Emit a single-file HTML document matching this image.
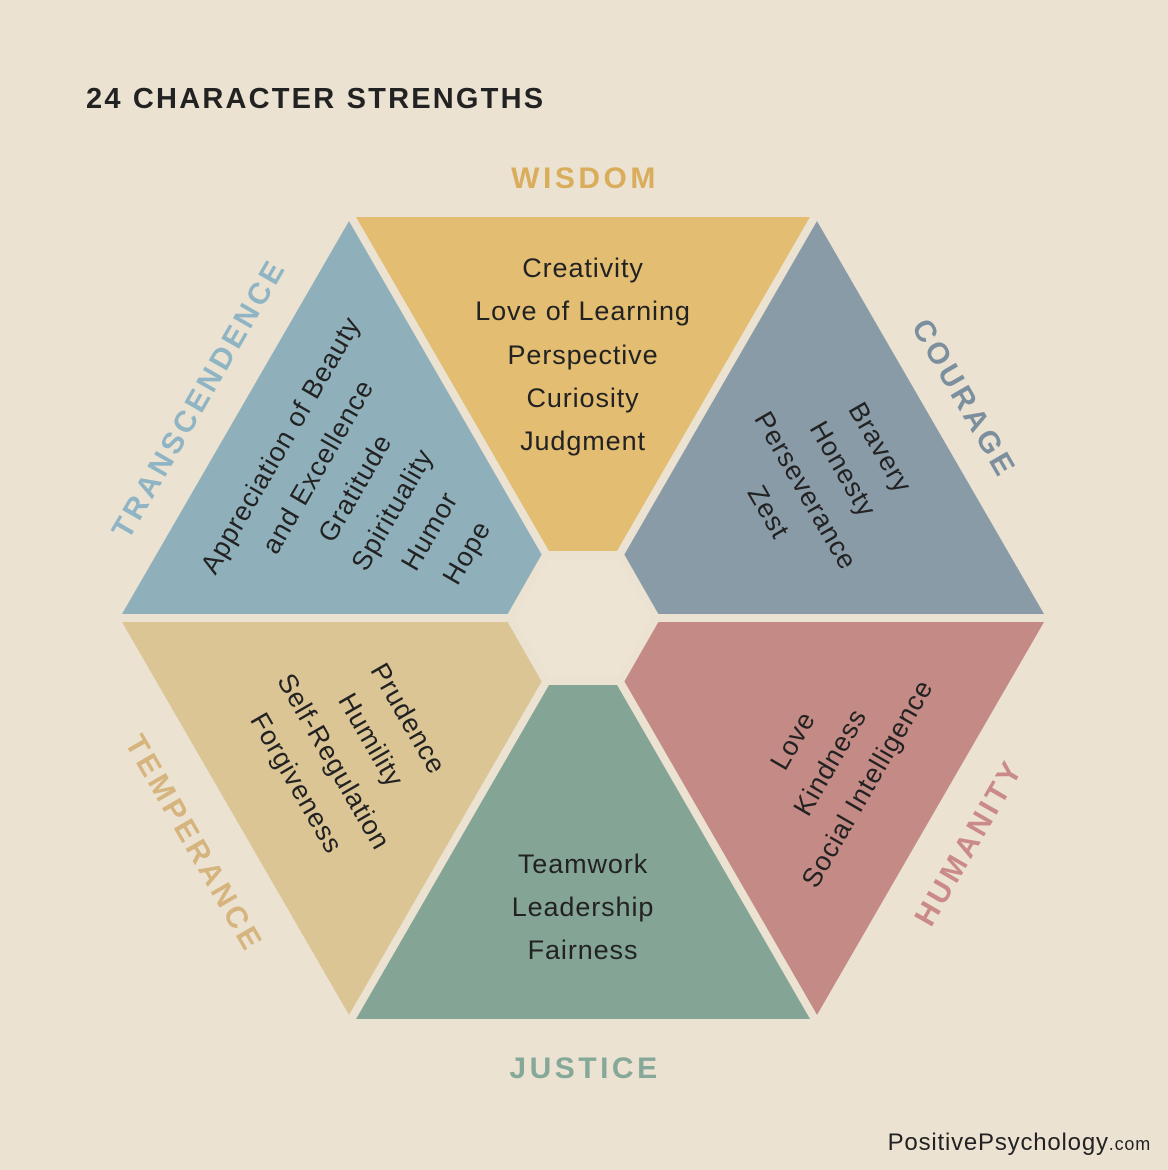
<!DOCTYPE html>
<html><head><meta charset="utf-8"><style>
html,body{margin:0;padding:0;background:#ebe2d2;}
svg{display:block;}
text{font-family:"Liberation Sans",sans-serif;}
</style></head><body>
<svg width="1168" height="1170" viewBox="0 0 1168 1170" xmlns="http://www.w3.org/2000/svg">
<rect width="1168" height="1170" fill="#ebe2d2"/>
<text x="86" y="108" font-size="29" font-weight="bold" fill="#222" letter-spacing="2.2">24 CHARACTER STRENGTHS</text>
<g stroke="#ebe2d2" stroke-width="8" stroke-linejoin="miter">
<polygon points="583,618 349,213 817,213" fill="#e2bd72"/>
<polygon points="583,618 817,213 1051,618" fill="#8a9ba8"/>
<polygon points="583,618 1051,618 817,1023" fill="#c48a85"/>
<polygon points="583,618 817,1023 349,1023" fill="#84a596"/>
<polygon points="583,618 349,1023 115,618" fill="#dbc595"/>
<polygon points="583,618 115,618 349,213" fill="#8fb0ba"/>
</g>
<polygon points="510,618 546,555 620,555 656,618 620,681 546,681" fill="#ede4d4" stroke="#ebe2d2" stroke-width="8"/>
<g font-size="27" fill="#222" text-anchor="middle" letter-spacing="0.9">
<text x="583" y="277">Creativity</text>
<text x="583" y="320">Love of Learning</text>
<text x="583" y="364">Perspective</text>
<text x="583" y="407">Curiosity</text>
<text x="583" y="450">Judgment</text>
<text x="583" y="873">Teamwork</text>
<text x="583" y="916">Leadership</text>
<text x="583" y="959">Fairness</text>
<g transform="translate(374,499) rotate(-60)">
<text x="0" y="-99">Appreciation of Beauty</text>
<text x="0" y="-56">and Excellence</text>
<text x="0" y="-13">Gratitude</text>
<text x="0" y="30">Spirituality</text>
<text x="0" y="73">Humor</text>
<text x="0" y="116">Hope</text>
</g>
<g transform="translate(824,480) rotate(60)">
<text x="0" y="-56">Bravery</text>
<text x="0" y="-13">Honesty</text>
<text x="0" y="30">Perseverance</text>
<text x="0" y="73">Zest</text>
</g>
<g transform="translate(830,762) rotate(-60)">
<text x="0" y="-34">Love</text>
<text x="0" y="9">Kindness</text>
<text x="0" y="52">Social Intelligence</text>
</g>
<g transform="translate(352,751) rotate(60)">
<text x="0" y="-56">Prudence</text>
<text x="0" y="-13">Humility</text>
<text x="0" y="30">Self-Regulation</text>
<text x="0" y="73">Forgiveness</text>
</g>
</g>
<g font-size="30" font-weight="bold" text-anchor="middle" letter-spacing="3.5">
<text x="585" y="188" fill="#d9ad5b">WISDOM</text>
<text x="585" y="1078" fill="#86a898">JUSTICE</text>
<text transform="translate(198,398) rotate(-60)" y="11" fill="#8fb4c3">TRANSCENDENCE</text>
<text transform="translate(965,398) rotate(60)" y="11" fill="#7c8f9e">COURAGE</text>
<text transform="translate(968,842) rotate(-60)" y="11" fill="#c98a88">HUMANITY</text>
<text transform="translate(195,843) rotate(60)" y="11" fill="#d6b47d">TEMPERANCE</text>
</g>
<text x="1151" y="1150" font-size="24" fill="#222" text-anchor="end" letter-spacing="0.8">PositivePsychology<tspan font-size="18">.com</tspan></text>
</svg>
</body></html>
